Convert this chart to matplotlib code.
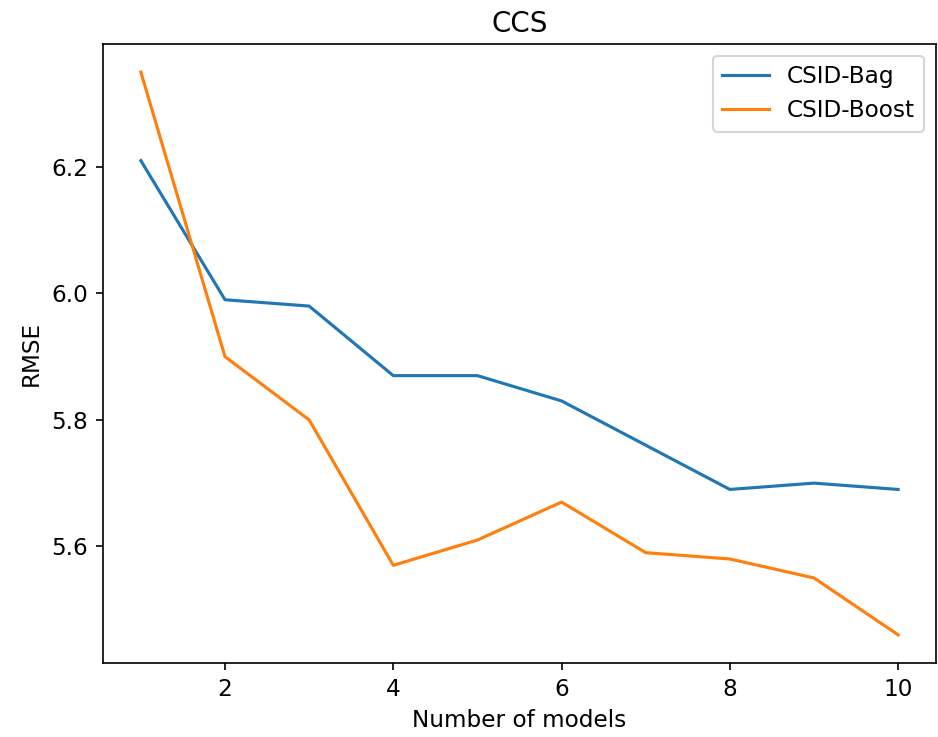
import matplotlib
matplotlib.use("Agg")
import matplotlib.pyplot as plt

n_models = [1, 2, 3, 4, 5, 6, 7, 8, 9, 10]
bag_rmse = [6.21, 5.99, 5.98, 5.87, 5.87, 5.83, 5.76, 5.69, 5.70, 5.69]
boost_rmse = [6.35, 5.90, 5.80, 5.57, 5.61, 5.67, 5.59, 5.58, 5.55, 5.46]

# reference looks like a default plot scaled up a bit
plt.rcParams["font.size"] = 11.1
plt.rcParams["lines.linewidth"] = 1.5

W, H, DPI = 938, 737, 150
fig = plt.figure(figsize=(W / DPI, H / DPI), dpi=DPI)
ax = fig.add_axes([103 / W, 1 - 663 / H, (936 - 103) / W, (663 - 44) / H])

ax.plot(n_models, bag_rmse, label="CSID-Bag")
ax.plot(n_models, boost_rmse, label="CSID-Boost")
ax.set_title("CCS")
ax.set_xlabel("Number of models")
ax.set_ylabel("RMSE")
ax.legend()

fig.savefig("out.png", dpi=DPI)
